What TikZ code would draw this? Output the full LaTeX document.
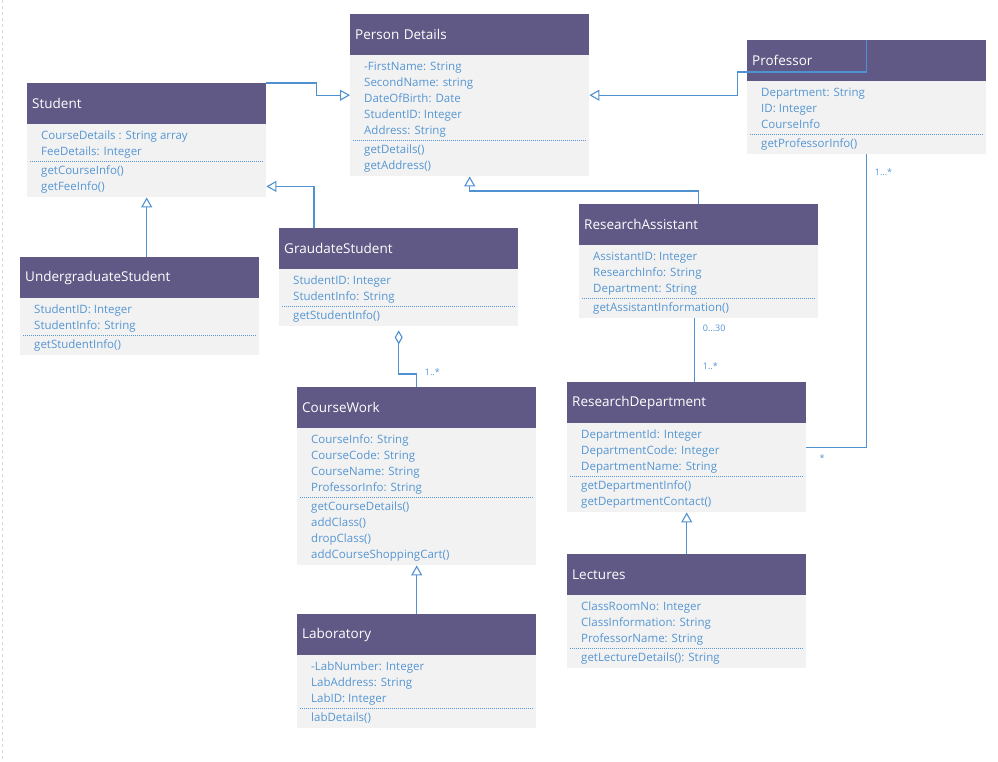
\documentclass[tikz,border=0pt]{standalone}
\usepackage{fontspec}
\setmainfont{Open Sans}
\usepackage{xcolor}
\usepackage{tikz}
\usetikzlibrary{calc}
\usetikzlibrary{arrows.meta}

\definecolor{headpurple}{RGB}{96,89,133}
\definecolor{bodygray}{RGB}{242,242,242}
\definecolor{textblue}{RGB}{86,150,210}
\definecolor{lineblue}{RGB}{80,145,210}

% #1 name, #2 x, #3 y (top left), #4 title, #5 attributes, #6 operations
\newcommand{\umlclass}[6]{%
  \foreach \txt [count=\i] in {#5} {\xdef\nattr{\i}}
  \foreach \txt [count=\i] in {#6} {\xdef\nops{\i}}
  \pgfmathsetmacro\boxh{50+16*(\nattr+\nops)}
  \node[classbox, minimum height=\boxh pt] (#1) at (#2,#3) {};
  \node[classhead] (#1-title) at (#1.north west) {#4};
  \foreach \txt [count=\i] in {#5}
    \node[member] (#1-a\i) at ($(#1.north west)+(14,37+16*\i)$) {\txt};
  \pgfmathsetmacro\sepy{46+16*\nattr}
  \draw[divider] ($(#1.north west)+(3,\sepy)$) -- ($(#1.north east)+(-3,\sepy)$);
  \foreach \txt [count=\i] in {#6}
    \node[member] (#1-m\i) at ($(#1.north west)+(14,\sepy-6+16*\i)$) {\txt};
}

\begin{document}
\begin{tikzpicture}[x=1pt,y=-1pt,
  classbox/.style={fill=bodygray, anchor=north west, minimum width=239pt, inner sep=0pt},
  classhead/.style={fill=headpurple, text=white, anchor=north west, text width=229pt,
    inner xsep=5pt, inner ysep=0pt, minimum height=41pt, font=\fontsize{13.5}{16}\selectfont},
  member/.style={anchor=west, inner sep=0pt, text=textblue, text height=8.5pt, text depth=2.5pt,
    font=\fontsize{11.5}{14}\selectfont},
  divider/.style={draw=textblue, line width=0.7pt, dash pattern=on 1pt off 1pt},
  conn/.style={draw=lineblue, line width=1.1pt},
  gen/.style={conn, -{Triangle[open, length=10pt, width=11pt]}},
  agg/.style={conn, {Diamond[open, length=14pt, width=8pt]}-},
  mult/.style={anchor=west, inner sep=0pt, text=textblue, font=\fontsize{9}{10}\selectfont}]
\useasboundingbox (0,0) rectangle (998,761);
\draw[black!15, dashed] (2,0) -- (2,761);

% Classes
\umlclass{pd}{350}{14}{Person Details}{-FirstName: String,SecondName: string,DateOfBirth: Date,StudentID: Integer,Address: String}{getDetails(),getAddress()}
\umlclass{stu}{27}{83}{Student}{CourseDetails : String array,FeeDetails: Integer}{getCourseInfo(),getFeeInfo()}
\umlclass{prof}{747}{40}{Professor}{Department: String,ID: Integer,CourseInfo}{getProfessorInfo()}
\umlclass{ug}{20}{257}{UndergraduateStudent}{StudentID: Integer,StudentInfo: String}{getStudentInfo()}
\umlclass{gs}{279}{228}{GraudateStudent}{StudentID: Integer,StudentInfo: String}{getStudentInfo()}
\umlclass{ra}{579}{204}{ResearchAssistant}{AssistantID: Integer,ResearchInfo: String,Department: String}{getAssistantInformation()}
\umlclass{cw}{297}{387}{CourseWork}{CourseInfo: String,CourseCode: String,CourseName: String,ProfessorInfo: String}{getCourseDetails(),addClass(),dropClass(),addCourseShoppingCart()}
\umlclass{rd}{567}{382}{ResearchDepartment}{DepartmentId: Integer,DepartmentCode: Integer,DepartmentName: String}{getDepartmentInfo(),getDepartmentContact()}
\umlclass{lec}{567}{554}{Lectures}{ClassRoomNo: Integer,ClassInformation: String,ProfessorName: String}{getLectureDetails(): String}
\umlclass{lab}{297}{614}{Laboratory}{-LabNumber: Integer,LabAddress: String,LabID: Integer}{labDetails()}

% Generalisations
\draw[gen] (stu.north east) -- ++(50,0) |- (pd.west);
\draw[gen] (prof.north) -- ++(0,32) -| ($(pd.east)+(148,0)$) -- (pd.east);
\draw[gen] (ra.north) -- ++(0,-13) -| (pd.south);
\draw[gen] ($(gs.north west)+(35,0)$) |- ($(stu.south east)+(0,-11)$);
\draw[gen] (ug.north -| stu.south) -- (stu.south);
\draw[gen] (lab.north) -- (cw.south);
\draw[gen] (lec.north) -- (rd.south);

% Associations
\draw[agg] ($(gs.south)+(0,4)$) |- ($(cw.north)+(0,-13)$) -| (cw.north);
\node[mult] (m1) at ($(cw.north)+(8,-15)$) {1..*};
\coordinate (raout) at ($(ra.south)+(-4,0)$);
\draw[conn] (raout) -- (raout |- rd.north);
\node[mult] (m2) at ($(raout)+(8,10)$) {0...30};
\node[mult] (m3) at ($(raout |- rd.north)+(8,-16)$) {1..*};
\draw[conn] (prof.south) |- (rd.east);
\node[mult] (m4) at ($(prof.south)+(8,18)$) {1...*};
\node[mult] (m5) at ($(rd.east)+(13,11)$) {*};
\end{tikzpicture}
\end{document}
